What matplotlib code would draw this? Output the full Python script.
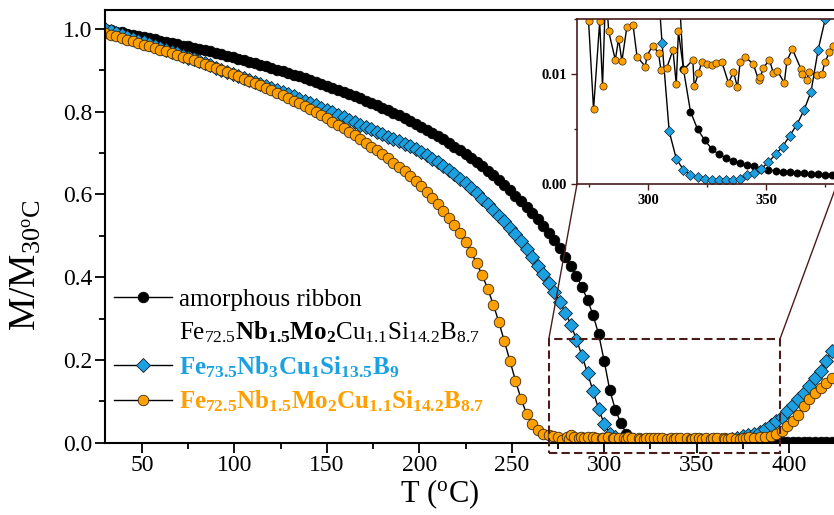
import numpy as np
import matplotlib
matplotlib.use("Agg")
import matplotlib.pyplot as plt
from matplotlib.lines import Line2D
from matplotlib.patches import Rectangle, ConnectionPatch
from matplotlib.ticker import MultipleLocator, FormatStrFormatter

plt.rcParams["font.family"] = ["Liberation Serif", "DejaVu Serif"]
plt.rcParams["mathtext.fontset"] = "custom"
plt.rcParams["mathtext.rm"] = "Liberation Serif"
plt.rcParams["mathtext.bf"] = "Liberation Serif:bold"
plt.rcParams["mathtext.it"] = "Liberation Serif:italic"

BLUE = "#1ba1e2"
ORANGE = "#ffa000"
BROWN = "#4a1c1c"

# temperature grid of the black and blue runs (deg C)
temp = np.arange(30, 424, 3)

# amorphous ribbon Fe72.5 Nb1.5 Mo2 Cu1.1 Si14.2 B8.7
m_amorph = [
    1.000, 0.997, 0.994, 0.992, 0.989, 0.986, 0.983, 0.981, 0.978, 0.975,
    0.972, 0.969, 0.966, 0.963, 0.960, 0.958, 0.955, 0.952, 0.949, 0.946,
    0.942, 0.939, 0.935, 0.932, 0.928, 0.925, 0.921, 0.917, 0.914, 0.910,
    0.906, 0.902, 0.898, 0.894, 0.890, 0.886, 0.881, 0.877, 0.872, 0.868,
    0.863, 0.858, 0.853, 0.848, 0.843, 0.838, 0.833, 0.827, 0.822, 0.816,
    0.810, 0.804, 0.798, 0.792, 0.785, 0.778, 0.771, 0.764, 0.757, 0.749,
    0.741, 0.733, 0.725, 0.716, 0.707, 0.698, 0.688, 0.678, 0.668, 0.657,
    0.646, 0.635, 0.623, 0.610, 0.597, 0.584, 0.570, 0.555, 0.540, 0.524,
    0.507, 0.489, 0.470, 0.449, 0.427, 0.403, 0.376, 0.345, 0.308, 0.262,
    0.197, 0.127, 0.080, 0.047, 0.022, 0.0105, 0.0066, 0.0050, 0.0040, 0.0032,
    0.0027, 0.0024, 0.0021, 0.0019, 0.0017, 0.0016, 0.0014, 0.0013, 0.0012, 0.0011,
    0.0011, 0.0010, 0.0010, 0.0009, 0.0009, 0.0008, 0.0008, 0.0008, 0.0007, 0.0007,
    0.0007, 0.0006, 0.0006, 0.0006, 0.0006, 0.0006, 0.0005, 0.0005, 0.0005, 0.0005,
    0.0005, 0.0005,
]

# Fe73.5 Nb3 Cu1 Si13.5 B9
m_finemet = [
    1.000, 0.995, 0.990, 0.986, 0.981, 0.977, 0.972, 0.968, 0.963, 0.959,
    0.954, 0.950, 0.945, 0.941, 0.936, 0.931, 0.927, 0.922, 0.917, 0.912,
    0.907, 0.902, 0.897, 0.892, 0.887, 0.882, 0.877, 0.872, 0.867, 0.862,
    0.857, 0.852, 0.847, 0.842, 0.837, 0.832, 0.827, 0.821, 0.816, 0.810,
    0.805, 0.799, 0.793, 0.787, 0.781, 0.775, 0.769, 0.763, 0.758, 0.752,
    0.746, 0.740, 0.735, 0.729, 0.723, 0.717, 0.710, 0.703, 0.695, 0.687,
    0.678, 0.669, 0.659, 0.649, 0.638, 0.627, 0.615, 0.603, 0.590, 0.577,
    0.563, 0.549, 0.535, 0.520, 0.505, 0.487, 0.468, 0.448, 0.428, 0.408,
    0.387, 0.365, 0.341, 0.314, 0.285, 0.249, 0.210, 0.168, 0.124, 0.081,
    0.045, 0.022, 0.0128, 0.0048, 0.0023, 0.0013, 0.0008, 0.0006, 0.0005, 0.0004,
    0.0004, 0.0004, 0.0004, 0.0005, 0.0008, 0.0010, 0.0014, 0.0020, 0.0027, 0.0034,
    0.0044, 0.0054, 0.0067, 0.0084, 0.0122, 0.0150, 0.0185, 0.022, 0.027, 0.034,
    0.042, 0.052, 0.063, 0.076, 0.090, 0.105, 0.121, 0.138, 0.156, 0.174,
    0.197, 0.222,
]

# Fe72.5 Nb1.5 Mo2 Cu1.1 Si14.2 B8.7 (annealed)
temp_mo = list(range(30, 270, 3)) + [
    270.0, 272.5, 274.9, 277.0, 279.6, 280.8, 282.2, 283.4, 286.2, 287.6,
    289.0, 291.1, 293.7, 295.4, 298.9, 299.6, 302.1, 304.5, 305.5, 308.0,
    310.6, 312.0, 312.9, 315.1, 319.0, 319.6, 321.4, 322.8, 324.9, 327.1,
    328.9, 331.3, 334.1, 336.2, 337.9, 339.0, 341.1, 344.6, 346.8, 347.5,
    348.9, 351.4, 353.1, 354.8, 357.7, 358.8, 361.1, 364.7, 365.1, 367.2,
    368.3, 371.4, 373.6, 374.9, 376.8, 378.5, 381.0, 384.0, 387.0, 390.0,
    393.0, 396.0, 399.0, 402.0, 405.0, 408.0, 411.0, 414.0, 417.0, 420.0,
    423.0,
]
m_mo = [
    0.990, 0.986, 0.982, 0.978, 0.974, 0.970, 0.966, 0.962, 0.958, 0.954,
    0.950, 0.946, 0.942, 0.937, 0.933, 0.929, 0.925, 0.921, 0.916, 0.911,
    0.906, 0.901, 0.896, 0.891, 0.886, 0.880, 0.875, 0.869, 0.864, 0.858,
    0.852, 0.846, 0.840, 0.833, 0.827, 0.820, 0.813, 0.806, 0.799, 0.792,
    0.784, 0.776, 0.768, 0.760, 0.752, 0.743, 0.734, 0.725, 0.716, 0.707,
    0.698, 0.688, 0.677, 0.667, 0.656, 0.645, 0.633, 0.620, 0.606, 0.592,
    0.577, 0.561, 0.544, 0.526, 0.506, 0.484, 0.460, 0.434, 0.405, 0.372,
    0.334, 0.292, 0.245, 0.198, 0.150, 0.106, 0.070, 0.044, 0.030, 0.022,
    0.0190, 0.0170, 0.0148, 0.0068, 0.0148, 0.0089, 0.0180, 0.0139, 0.0113, 0.0132,
    0.0112, 0.0143, 0.0145, 0.0116, 0.0107, 0.0117, 0.0126, 0.0119, 0.0104, 0.0106,
    0.0122, 0.0091, 0.0139, 0.0104, 0.0113, 0.0089, 0.0101, 0.0111, 0.0109, 0.0108,
    0.0110, 0.0111, 0.0092, 0.0102, 0.0088, 0.0111, 0.0116, 0.0109, 0.0095, 0.0097,
    0.0106, 0.0113, 0.0101, 0.0103, 0.0092, 0.0112, 0.0123, 0.0105, 0.0100, 0.0095,
    0.0102, 0.0099, 0.0100, 0.0111, 0.0120, 0.0126, 0.0125, 0.0130, 0.0140, 0.0160,
    0.020, 0.028, 0.040, 0.052, 0.068, 0.088, 0.105, 0.120, 0.133, 0.145,
    0.157,
]

lab_amorph = "amorphous ribbon"
lab_amorph2 = r"$\mathrm{Fe_{72.5}}\mathbf{Nb_{1.5}Mo_{2}}\mathrm{Cu_{1.1}Si_{14.2}B_{8.7}}$"
lab_finemet = r"$\mathbf{Fe_{73.5}Nb_{3}Cu_{1}Si_{13.5}B_{9}}$"
lab_mo = r"$\mathbf{Fe_{72.5}Nb_{1.5}Mo_{2}Cu_{1.1}Si_{14.2}B_{8.7}}$"

zoom_box = (270, 395, -0.025, 0.25)


def draw_series(axis, ms, mew):
    l1, = axis.plot(temp, m_amorph, "-o", color="black", lw=1, ms=ms,
                    mfc="black", mec="black", mew=mew)
    l2, = axis.plot(temp, m_finemet, "-D", color="black", lw=1, ms=ms * 1.0,
                    mfc=BLUE, mec="#10202c", mew=mew)
    l3, = axis.plot(temp_mo, m_mo, "-o", color="black", lw=1, ms=ms,
                    mfc=ORANGE, mec="#3a2a10", mew=mew)
    return l1, l2, l3


fig = plt.figure(figsize=(8.34, 5.15), dpi=100)
ax = fig.add_axes([105 / 834, 72.3 / 515, 739.6 / 834, 432.7 / 515])
l1, l2, l3 = draw_series(ax, 7.6, 0.6)

ax.set_xlim(30, 430)
ax.set_ylim(0, 1.046)
ax.xaxis.set_major_locator(MultipleLocator(50))
ax.xaxis.set_minor_locator(MultipleLocator(25))
ax.yaxis.set_major_locator(MultipleLocator(0.2))
ax.yaxis.set_minor_locator(MultipleLocator(0.1))
ax.yaxis.set_major_formatter(FormatStrFormatter("%.1f"))
ax.tick_params(which="major", direction="out", length=7, width=1.3,
               labelsize=17, pad=2)
ax.tick_params(which="minor", direction="out", length=4, width=1.3)
for s in ax.spines.values():
    s.set_linewidth(1.5)

ax.set_xlabel(r"T ($\mathrm{^{o}}$C)", fontsize=22)
ax.set_ylabel(r"$\mathrm{M/M_{30^{o}C}}$", fontsize=27)
ax.xaxis.set_label_coords(0.453, -0.08)
ax.yaxis.set_label_coords(-0.083, 0.41)

blank = Line2D([], [], color="none")
leg = ax.legend([l1, blank, l2, l3],
                [lab_amorph, lab_amorph2, lab_finemet, lab_mo],
                loc="lower left", bbox_to_anchor=(-0.011, 0.025),
                frameon=False, fontsize=18, numpoints=1,
                handlelength=2.3, handletextpad=0.3, labelspacing=0.36,
                borderaxespad=0.3)
for txt, c in zip(leg.get_texts(), ["black", "black", BLUE, ORANGE]):
    txt.set_color(c)

x0, x1, y0, y1 = zoom_box
ax.add_patch(Rectangle((x0, y0), x1 - x0, y1 - y0, fill=False, ec=BROWN,
                       lw=1.5, ls=(0, (4, 2)), clip_on=False, zorder=5))

# inset
axins = fig.add_axes([577 / 834, 331 / 515, 260 / 834, 164.7 / 515])
draw_series(axins, 5.2, 0.5)
axins.set_xlim(270, 380)
axins.set_ylim(0, 0.015)
axins.xaxis.set_major_locator(MultipleLocator(50))
axins.xaxis.set_minor_locator(MultipleLocator(25))
axins.yaxis.set_major_locator(MultipleLocator(0.01))
axins.yaxis.set_minor_locator(MultipleLocator(0.005))
axins.yaxis.set_major_formatter(FormatStrFormatter("%.2f"))
axins.tick_params(which="major", direction="out", length=4, width=1,
                  color=BROWN, labelsize=10.5, pad=3)
axins.tick_params(which="minor", direction="out", length=2.5, width=1,
                  color=BROWN)
for lab in axins.get_xticklabels() + axins.get_yticklabels():
    lab.set_fontweight("bold")
for s in axins.spines.values():
    s.set_color(BROWN)
    s.set_linewidth(1.2)

for xa, xb in [(x0, 270), (x1, 380)]:
    con = ConnectionPatch(xyA=(xa, y1), coordsA=ax.transData,
                          xyB=(xb, 0), coordsB=axins.transData,
                          color=BROWN, lw=1)
    fig.add_artist(con)

fig.savefig("out.png", dpi=100)
